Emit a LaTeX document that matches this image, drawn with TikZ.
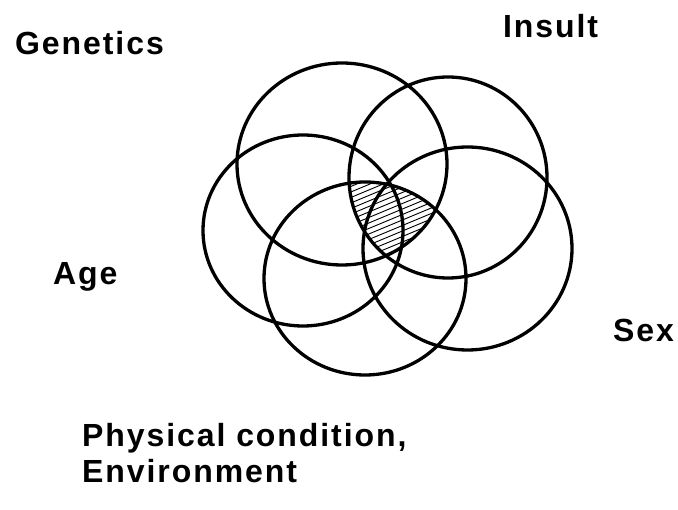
\documentclass[tikz,border=0pt]{standalone}
\usepackage{fontspec}
\setmainfont{Liberation Sans}[LetterSpace=6]
\usetikzlibrary{calc}

\begin{document}
\begin{tikzpicture}[
    x=1pt, y=-1pt,
    circ/.style={draw=black, line width=3.3pt},
    hatch/.style={draw=black, line width=0.9pt},
    lbl/.style={font=\fontsize{32}{36}\selectfont\bfseries, inner sep=0pt, anchor=base west, align=left}
]
\useasboundingbox (0,0) rectangle (678,510);

% ---------------- Centres ----------------
\coordinate (gen) at (342,164);
\coordinate (ins) at (448,177.5);
\coordinate (age) at (303,230.5);
\coordinate (sex) at (467.5,248.5);
\coordinate (phy) at (365,278.5);

% ---------------- Hatched overlap ----------------
\begin{scope}
    \clip (gen) ellipse [x radius=105pt, y radius=101pt];
    \clip (ins) ellipse [x radius=99pt, y radius=100.5pt];
    \clip (phy) ellipse [x radius=101pt, y radius=96.5pt];
    \foreach \k in {0,...,26}
        \draw[hatch] (340,180+5.5*\k) -- ++(120,-50);
\end{scope}

% ---------------- Circles ----------------
\draw[circ] (gen) ellipse [x radius=105pt, y radius=101pt];
\draw[circ] (ins) ellipse [x radius=99pt, y radius=100.5pt];
\draw[circ] (age) ellipse [x radius=100pt, y radius=95.5pt];
\draw[circ] (sex) ellipse [x radius=104.5pt, y radius=101.5pt];
\draw[circ] (phy) ellipse [x radius=101pt, y radius=96.5pt];

% ---------------- Labels ----------------
\node[lbl] (genetics_lbl) at (15,55) {Genetics};
\node[lbl] (insult_lbl) at (503,38) {Insult};
\node[lbl] (age_lbl) at (53,285) {Age};
\node[lbl] (sex_lbl) at (613,342) {Sex};
\node[lbl] (physical_lbl) at (82,447) {Physical condition,};
\node[lbl] (env_lbl) at (82,483) {Environment};

\end{tikzpicture}
\end{document}
